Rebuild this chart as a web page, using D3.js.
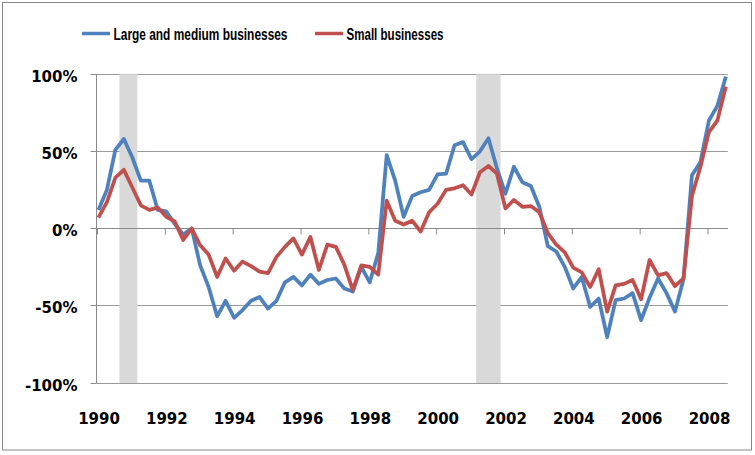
<!DOCTYPE html>
<html><head><meta charset="utf-8">
<script src="https://cdn.jsdelivr.net/npm/d3@7"></script>
<style>html,body{margin:0;padding:0;background:#fff;} svg{display:block;}</style>
</head><body>
<svg id="chart" width="755" height="455"></svg>
<script>
// Quarterly observations, 1990 Q1 .. 2008 Q3 (fractional year of each quarter)
const quarters = d3.range(75).map(i => 1990 + i / 4);

const largeMedium = [
  12, 25, 51, 58, 46, 31, 31, 12, 11, 3,
  -4, 0, -24, -38, -57, -47, -58, -53, -47, -44.5,
  -52, -47, -35, -31.5, -37, -30, -36, -33.5, -32.5, -39,
  -41, -25, -35, -16, 47.5, 31, 7.5, 21, 23.5, 25,
  35, 35.5, 54, 56, 45, 50, 58.5, 39, 22.5, 40,
  30, 27.5, 14, -11.5, -15, -25, -39, -31.5, -51, -45.5,
  -70.5, -46.5, -45.5, -42, -59.5, -45, -32.5, -42, -54, -33,
  34.5, 43, 70, 79.5, 98.5
];
const small = [
  7, 17, 33, 38, 26.5, 15, 12, 13.5, 7.5, 4.5,
  -7.5, 0, -11, -17, -31.5, -19.5, -27.5, -21.5, -24.5, -28,
  -29, -18.5, -12, -6.5, -17, -5.5, -27, -10.5, -12, -23.5,
  -40, -24, -25, -30, 18, 5, 2.5, 5, -2, 10.5,
  16, 25, 26, 28, 22, 36.5, 40.5, 35.5, 13, 18.5,
  14, 14.5, 10.5, -3, -10.5, -15.5, -25.5, -28.5, -38, -26.5,
  -54, -37, -36, -33.5, -46, -20.5, -30.5, -29, -37.5, -32.5,
  21, 40, 62.5, 70, 92
];
const seriesNames = ["Large and medium businesses", "Small businesses"];
const seriesColors = ["#4F81BD", "#C0504D"];
const yTicks = [100, 50, 0, -50, -100];
const xTicks = [1990, 1992, 1994, 1996, 1998, 2000, 2002, 2004, 2006, 2008];
const recessions = [[1990.66, 1991.19], [2001.18, 2001.90]];

const svg = d3.select("#chart");
const x = d3.scaleLinear().domain([1990, 2008]).range([97, 707.5]);
const xEndYear = 2008.6;
const y = d3.scaleLinear().domain([-100, 100]).range([382.5, 74.3]);
const crisp = v => Math.round(v) + 0.5;
const left = 96.5, right = x(xEndYear);

// chart frame
svg.append("rect").attr("x", 2.5).attr("y", 2.5).attr("width", 749).attr("height", 447.5)
  .attr("fill", "#fff").attr("stroke", "#878787").attr("stroke-width", 1);

// gridlines
svg.append("g").selectAll("line").data(yTicks).join("line")
  .attr("x1", left).attr("x2", right)
  .attr("y1", d => crisp(y(d))).attr("y2", d => crisp(y(d)))
  .attr("stroke", "#9a9a9a").attr("stroke-width", 1);

// recession shading
svg.append("g").selectAll("rect").data(recessions).join("rect")
  .attr("x", d => x(d[0])).attr("width", d => x(d[1]) - x(d[0]))
  .attr("y", y(100)).attr("height", y(-100) - y(100) + 0.5)
  .attr("fill", "#d9d9d9");

// y axis
const yAxis = svg.append("g").attr("transform", `translate(${left},0)`)
  .call(d3.axisLeft(y).tickValues(yTicks).tickSize(6).tickPadding(13).tickFormat(d => d + "%"));
yAxis.select(".domain").remove();
yAxis.selectAll(".tick").attr("transform", d => `translate(0,${crisp(y(d))})`);
yAxis.selectAll(".tick line").attr("stroke", "#8a8a8a");
yAxis.selectAll(".tick text").attr("dy", "0.53em")
  .style("font-family", "DejaVu Sans, sans-serif").style("font-size", "15px")
  .style("font-weight", "bold").attr("fill", "#000");
svg.append("line").attr("x1", left).attr("x2", left)
  .attr("y1", crisp(y(100))).attr("y2", crisp(y(-100)))
  .attr("stroke", "#8a8a8a");

// horizontal axis at 0% with tick marks
const zeroAxis = svg.append("g").attr("transform", `translate(0,${crisp(y(0))})`)
  .call(d3.axisBottom(x).tickValues(xTicks).tickSize(6).tickFormat(""));
zeroAxis.select(".domain").remove();
zeroAxis.selectAll(".tick line").attr("stroke", "#8a8a8a");
svg.append("line").attr("x1", left).attr("x2", right)
  .attr("y1", crisp(y(0))).attr("y2", crisp(y(0))).attr("stroke", "#8a8a8a");

// x labels at the bottom
const xLab = svg.append("g").attr("transform", `translate(0,${crisp(y(-100))})`)
  .call(d3.axisBottom(x).tickValues(xTicks).tickSize(0).tickPadding(30).tickFormat(d3.format("d")));
xLab.select(".domain").remove();
xLab.selectAll(".tick text").attr("dx", 1.5)
  .style("font-family", "DejaVu Sans, sans-serif").style("font-size", "15px")
  .style("font-weight", "bold").attr("fill", "#000");

// series lines
const line = d3.line().x((d, i) => x(quarters[i] + 1 / 24)).y(d => y(d)).curve(d3.curveLinear);
[largeMedium, small].forEach((s, k) => {
  svg.append("path").datum(s).attr("d", line)
    .attr("fill", "none").attr("stroke", seriesColors[k])
    .attr("stroke-width", 3.75).attr("stroke-linejoin", "round").attr("stroke-linecap", "butt");
});

// legend
const legendX = [82, 315], legendW = [174, 97];
seriesNames.forEach((name, k) => {
  const g = svg.append("g").attr("transform", `translate(${legendX[k]},0)`);
  g.append("line").attr("x1", 0).attr("x2", 28).attr("y1", 33.5).attr("y2", 33.5)
    .attr("stroke", seriesColors[k]).attr("stroke-width", 3.5);
  g.append("text").attr("x", 31.5).attr("y", 40).text(name)
    .attr("textLength", legendW[k]).attr("lengthAdjust", "spacingAndGlyphs")
    .style("font-family", "Liberation Sans Narrow, Liberation Sans, Arial, sans-serif")
    .style("font-size", "16.5px").style("font-weight", "bold").attr("fill", "#000");
});
</script>
</body></html>
